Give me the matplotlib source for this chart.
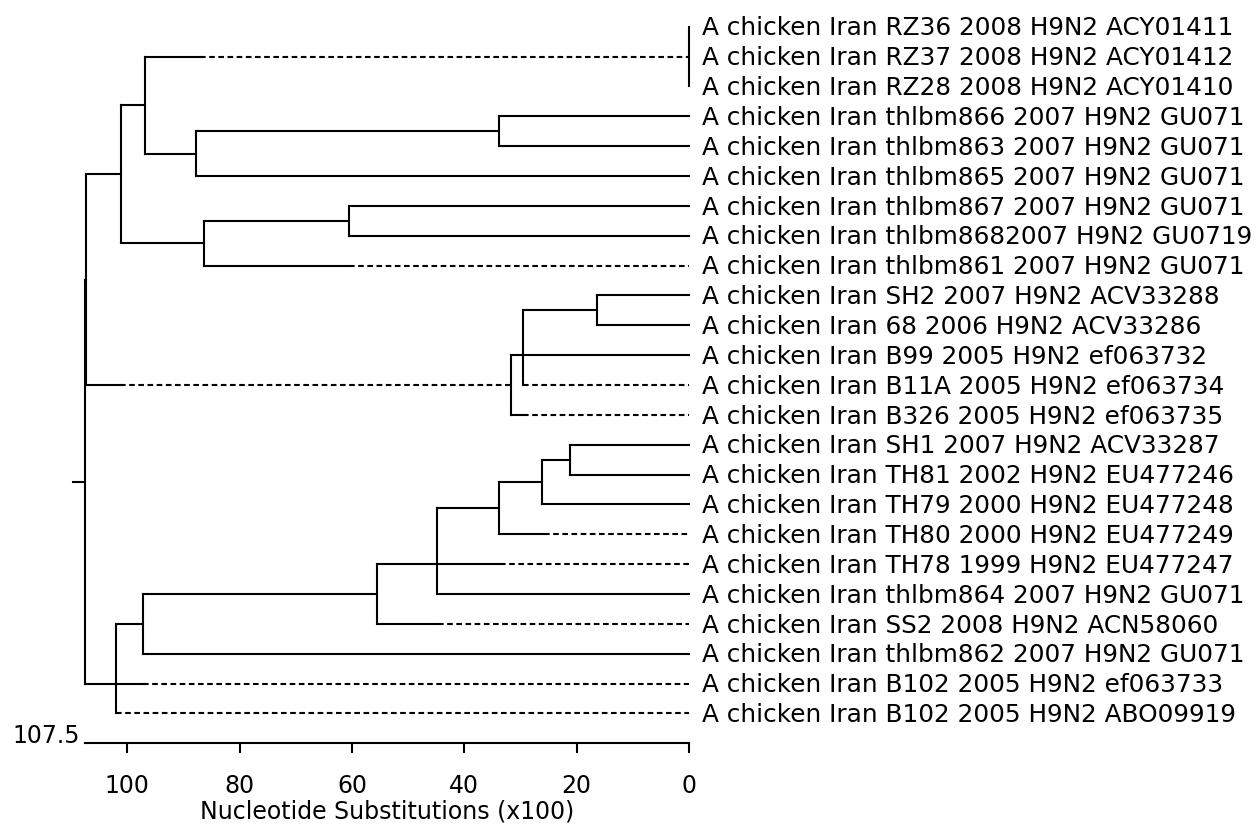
import matplotlib
matplotlib.use('Agg')
import matplotlib.pyplot as plt

# leaf labels, top to bottom
labels = [
    'A chicken Iran RZ36 2008 H9N2 ACY01411',
    'A chicken Iran RZ37 2008 H9N2 ACY01412',
    'A chicken Iran RZ28 2008 H9N2 ACY01410',
    'A chicken Iran thlbm866 2007 H9N2 GU071',
    'A chicken Iran thlbm863 2007 H9N2 GU071',
    'A chicken Iran thlbm865 2007 H9N2 GU071',
    'A chicken Iran thlbm867 2007 H9N2 GU071',
    'A chicken Iran thlbm8682007 H9N2 GU0719',
    'A chicken Iran thlbm861 2007 H9N2 GU071',
    'A chicken Iran SH2 2007 H9N2 ACV33288',
    'A chicken Iran 68 2006 H9N2 ACV33286',
    'A chicken Iran B99 2005 H9N2 ef063732',
    'A chicken Iran B11A 2005 H9N2 ef063734',
    'A chicken Iran B326 2005 H9N2 ef063735',
    'A chicken Iran SH1 2007 H9N2 ACV33287',
    'A chicken Iran TH81 2002 H9N2 EU477246',
    'A chicken Iran TH79 2000 H9N2 EU477248',
    'A chicken Iran TH80 2000 H9N2 EU477249',
    'A chicken Iran TH78 1999 H9N2 EU477247',
    'A chicken Iran thlbm864 2007 H9N2 GU071',
    'A chicken Iran SS2 2008 H9N2 ACN58060',
    'A chicken Iran thlbm862 2007 H9N2 GU071',
    'A chicken Iran B102 2005 H9N2 ef063733',
    'A chicken Iran B102 2005 H9N2 ABO09919',
]

# internal nodes: name, height (x100 substitutions), children (int = leaf index)
node_names = ['root', 'R1', 'A', 'B', 'RZ', 'C', 'D', 'E', 'F', 'G', 'P', 'Q',
              'H', 'J', 'K', 'L', 'M', 'N', 'O']
node_heights = [107.5, 107.3, 101.2, 96.8, 0.0, 87.8, 33.8, 86.3, 60.6, 31.7,
                29.6, 16.3, 102.0, 97.2, 55.5, 44.8, 33.8, 26.1, 21.2]
node_children = [['R1', 'H'], ['A', 'G'], ['B', 'E'], ['RZ', 'C'], [0, 1, 2],
                 ['D', 5], [3, 4], ['F', 8], [6, 7], ['P', 13], ['Q', 11, 12],
                 [9, 10], ['J', 22, 23], ['K', 21], ['L', 20], ['M', 18, 19],
                 ['N', 17], ['O', 16], [14, 15]]

# where a branch stops being solid and turns dashed
solid_end = {'RZ': 87.1, 8: 60.5, 'G': 101.3, 12: 29.6, 13: 29.5, 17: 25.9,
             18: 33.6, 20: 44.6, 22: 97.2, 23: 102.0}

scale_ticks = [100, 80, 60, 40, 20, 0]
scale_max = 107.5

heights = dict(zip(node_names, node_heights))
children = dict(zip(node_names, node_children))


def height(c):
    if isinstance(c, int):
        return 0.0
    return heights[c]


def ypos(c):
    if isinstance(c, int):
        return c
    ys = [ypos(k) for k in children[c]]
    if len(ys) == 3:
        return ys[1]
    return sum(ys) / 2


lw = 1.5
dash = (0, (2.7, 1.7))

fig = plt.figure(figsize=(12.58, 8.25), dpi=100)
ax = fig.add_axes([85.2 / 1258, (825 - 743.3) / 825, 603.8 / 1258, 743.3 / 825])
ax.set_xlim(scale_max, 0)
ax.set_ylim(24.0, -0.894)

for name in node_names:
    h = heights[name]
    ys = [ypos(k) for k in children[name]]
    ax.plot([h, h], [min(ys), max(ys)], color='k', lw=lw,
            solid_capstyle='projecting', clip_on=False)
    for k in children[name]:
        y = ypos(k)
        ch = height(k)
        s = solid_end.get(k, ch)
        if h > s:
            ax.plot([h, s], [y, y], color='k', lw=lw,
                    solid_capstyle='projecting', clip_on=False)
        if s > ch:
            ax.plot([s, ch], [y, y], color='k', lw=lw, linestyle=dash,
                    dash_capstyle='butt', clip_on=False)

# stub at the root
root_y = ypos('root')
ax.plot([scale_max, scale_max + 2.2], [root_y, root_y], color='k', lw=lw,
        clip_on=False)

for i, lab in enumerate(labels):
    ax.text(-2.26, i + 0.29, lab, fontsize=17.8, ha='left', va='baseline',
            clip_on=False)

ax.text(scale_max + 0.9, 24.0, str(scale_max), fontsize=17, ha='right',
        va='baseline', clip_on=False)

for s in ['top', 'right', 'left']:
    ax.spines[s].set_visible(False)
ax.spines['bottom'].set_linewidth(lw)
ax.set_yticks([])
ax.set_xticks(scale_ticks)
ax.set_xticklabels([str(t) for t in scale_ticks])
ax.tick_params(axis='x', direction='out', length=7.2, width=lw, pad=15,
               labelsize=17)
ax.set_xlabel('Nucleotide Substitutions (x100)', fontsize=17, labelpad=1)
ax.patch.set_visible(False)

fig.savefig('out.png', dpi=100)
